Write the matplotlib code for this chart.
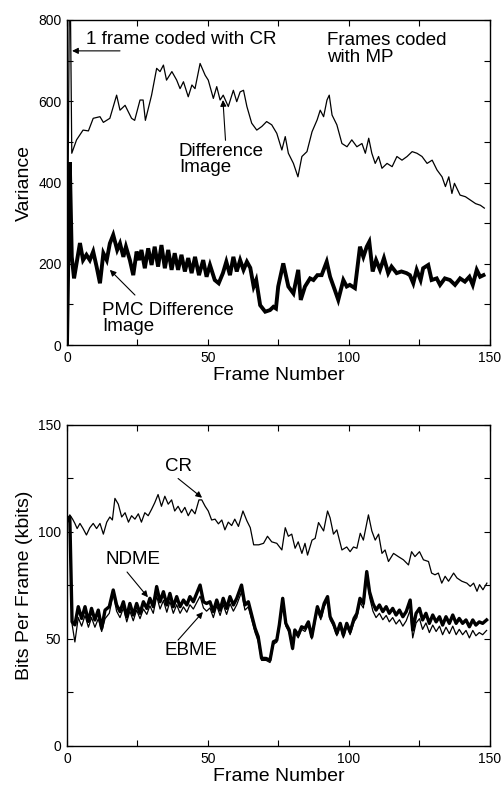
import matplotlib
matplotlib.use("Agg")
import matplotlib.pyplot as plt
from matplotlib.ticker import MultipleLocator

plt.rcParams['font.family'] = ['Liberation Sans', 'DejaVu Sans']

# ---- top panel: variance per frame ----
diff_frames = [0, 1, 1.7, 3.4, 5.7, 7.6, 9.3, 11.7, 12.9, 15.2, 17.6, 18.8, 20.6, 22.9, 24.0,
               25.9, 27.0, 27.8, 30.0, 31.8, 33.0, 34.2, 35.3, 37.2, 38.9, 40.1, 41.3, 43.0,
               44.3, 45.4, 47.2, 49.0, 50.1, 51.9, 53.1, 54.3, 55.4, 57.2, 59.0, 60.2, 61.4,
               62.6, 63.8, 65.5, 67.3, 69.1, 70.8, 72.6, 74.4, 76.2, 77.4, 78.5, 80.3, 81.9,
               83.3, 85.1, 86.9, 88.7, 89.8, 91.0, 92.2, 93.0, 94.0, 95.7, 97.5, 99.3, 101.0,
               102.8, 104.6, 105.8, 107.0, 108.1, 109.3, 110.5, 111.7, 113.5, 115.3, 117.0,
               118.8, 120.6, 122.4, 124.1, 125.9, 127.7, 129.5, 131.2, 133.0, 134.2, 135.4,
               136.5, 137.4, 139.4, 141.3, 143.0, 144.9, 146.6, 148.0]
diff_var = [0, 1000, 472, 505, 529, 527, 558, 562, 548, 558, 615, 578, 590, 558, 553,
            603, 603, 553, 615, 681, 673, 689, 652, 673, 652, 631, 648, 611,
            640, 631, 693, 664, 652, 607, 636, 603, 615, 587, 627, 599, 623,
            627, 587, 546, 529, 538, 550, 542, 521, 480, 513, 472, 447, 414,
            464, 476, 525, 554, 578, 562, 603, 615, 566, 542, 496, 488, 505,
            488, 496, 472, 509, 472, 447, 464, 435, 447, 439, 464,
            455, 464, 476, 472, 464, 447, 455, 431, 414, 390, 414,
            373, 398, 369, 365, 357, 348, 344, 337]

pmc_frames = [0, 1, 1.7, 2.5, 4.6, 5.7, 6.9, 8.1, 9.3, 10.5, 11.7, 12.9, 14.1, 15.2, 16.4,
              17.8, 18.8, 20.0, 20.9, 22.3, 23.5, 24.7, 25.6, 26.4, 27.6, 28.8, 30.0, 31.1,
              32.3, 33.5, 34.7, 35.9, 37.1, 38.2, 39.4, 40.6, 41.8, 43.0, 44.2, 45.4, 46.8,
              48.3, 49.5, 50.7, 52.4, 53.8, 55.3, 56.5, 57.8, 59.0, 60.2, 61.4, 62.6, 63.8,
              65.0, 66.2, 67.1, 68.5, 70.3, 72.0, 73.2, 74.1, 74.9, 76.7, 78.5, 80.3, 82.0,
              82.9, 84.4, 86.2, 87.4, 88.8, 90.3, 92.1, 93.3, 95.0, 96.2, 98.0, 99.2, 100.3,
              102.1, 103.9, 105.1, 106.3, 107.2, 108.4, 109.6, 111.0, 112.4, 113.9, 115.1,
              116.9, 118.6, 120.4, 121.6, 122.8, 124.0, 125.4, 126.3, 128.1, 129.3, 131.1,
              132.3, 134.0, 135.8, 137.6, 139.4, 141.1, 142.7, 143.9, 145.3, 146.5, 147.7]
pmc_var = [0, 450, 217, 164, 251, 209, 222, 209, 230, 193, 152, 226, 209, 250, 271,
           234, 250, 217, 242, 209, 172, 230, 209, 234, 189, 238, 197, 242,
           193, 246, 189, 234, 185, 226, 185, 222, 181, 214, 177, 217, 172,
           209, 168, 197, 160, 152, 177, 205, 172, 217, 181, 209, 185, 205,
           190, 144, 160, 98, 82, 86, 94, 90, 144, 201, 144, 127, 185,
           111, 144, 164, 160, 172, 172, 205, 168, 135, 111, 160, 144, 148,
           140, 242, 217, 242, 254, 181, 209, 185, 214, 177, 193,
           177, 181, 177, 172, 152, 185, 160, 189, 197, 160, 164,
           148, 164, 160, 148, 164, 156, 168, 148, 185, 168, 172]

# ---- bottom panel: bits per frame ----
cr_frames = [0, 1, 2, 2.8, 3.6, 4.6, 5.7, 6.9, 8.1, 9.3, 10.5, 11.7, 12.9, 14.1, 15.2, 16.1,
             17.0, 18.2, 19.4, 20.6, 21.8, 22.9, 24.1, 25.3, 26.4, 27.6, 28.8, 30.0, 31.1,
             32.3, 33.5, 34.7, 35.9, 37.1, 38.2, 39.4, 40.6, 41.8, 43.0, 44.2, 45.4, 46.8,
             47.8, 49.0, 50.1, 51.3, 52.5, 53.7, 54.9, 56.0, 57.2, 58.4, 59.5, 60.8, 62.4,
             63.8, 65.0, 66.2, 68.0, 69.7, 71.1, 72.6, 74.4, 76.2, 77.4, 78.5, 79.7, 80.9,
             82.0, 83.3, 84.4, 85.3, 86.9, 88.0, 89.2, 91.0, 92.4, 93.3, 94.5, 95.7, 97.5,
             99.2, 100.4, 101.6, 102.8, 104.0, 105.1, 106.9, 108.1, 109.3, 110.5, 111.7,
             112.8, 114.0, 115.8, 117.5, 119.3, 121.1, 122.2, 123.4, 125.0, 126.4, 128.2,
             129.3, 130.5, 131.7, 132.9, 134.1, 135.3, 137.1, 138.3, 140.0, 141.8, 143.0,
             144.2, 145.4, 146.3, 147.5, 148.9]
cr_bits = [105, 108, 106, 104, 101.6, 104, 101.6, 98.6, 102, 104, 101.6, 104, 99, 104.6, 107, 105.6,
           115.7, 113, 107, 109, 104.6, 107.6, 106, 108.5, 104.6, 109, 107.6, 110.6, 113.6,
           117.5, 112, 116.7, 113, 115, 109.8, 112, 109, 111.5, 107.6, 110.6, 108.5, 115,
           115, 112, 109.8, 105.6, 106, 103.8, 105.6, 101, 104.6, 103, 106, 102.6, 109.8,
           105.2, 102, 94, 94, 94.7, 98, 95.4, 94.7, 91.6, 102, 98, 99, 92.4,
           95.4, 90, 94.7, 89.2, 96.2, 97, 104.4, 100.5, 109.8, 106.6, 99, 101, 91.6,
           93, 90.8, 93, 92.4, 99.4, 96.2, 108, 100.5, 96.2, 99, 90,
           91.6, 86.2, 90, 88.5, 87, 84.6, 90.8, 88.5, 90.8, 87, 86.2,
           80.8, 80, 80.8, 76.1, 79.3, 77, 80.8, 78.5, 77, 76.1, 74.6,
           76.1, 72.3, 75.4, 73, 76.1]

me_frames = [0, 1, 1.8, 2.8, 4.0, 5.2, 6.4, 7.6, 8.7, 9.9, 11.1, 12.3, 13.5, 15.0, 16.4, 17.6,
             18.8, 20.0, 21.2, 22.3, 23.5, 24.7, 25.9, 27.1, 28.3, 29.4, 30.6, 31.8, 33.0,
             34.2, 35.4, 36.5, 37.7, 38.9, 40.1, 41.3, 42.5, 43.6, 44.8, 46.0, 47.2, 48.4,
             49.5, 50.7, 51.9, 53.1, 54.3, 55.4, 56.6, 57.8, 59.0, 60.2, 61.9, 63.1, 64.3,
             65.5, 66.7, 67.8, 69.0, 70.6, 72.0, 73.2, 74.4, 75.3, 76.5, 77.6, 78.8, 80.0,
             80.8, 82.0, 83.2, 84.4, 85.6, 86.8, 87.9, 88.8, 90.0, 91.2, 92.4, 93.3, 94.5,
             95.7, 96.9, 98.0, 99.2, 100.4, 101.8, 102.8, 103.9, 105.1, 106.3, 107.3, 108.5,
             109.6, 110.8, 112.0, 113.2, 114.3, 115.5, 116.7, 117.9, 119.1, 120.3, 121.7,
             122.6, 123.8, 125.0, 126.1, 127.3, 128.5, 129.7, 130.9, 132.1, 133.2, 134.4,
             135.6, 136.8, 138.0, 139.1, 140.3, 141.5, 142.7, 143.9, 145.0, 146.2, 147.4, 148.8]
ndme_bits = [106, 107, 58, 56.6, 65.1, 59.6, 65.1, 58.2, 64.3, 58.9, 63.5, 55, 63.5, 65.1, 72.9, 65.9,
             62.8, 67.4, 60.4, 66.6, 61.2, 66.6, 62, 67.4, 64.3, 69, 65.1, 74.5, 67.4,
             72.1, 65.9, 71.3, 65.1, 69.8, 65.1, 68.2, 65.9, 69.8, 67.4, 71.3, 75.2, 67.4,
             66.6, 67.4, 62.8, 68.2, 63.5, 69, 64.3, 69.8, 65.9, 69, 75.2, 65.9, 67.4,
             61.2, 55, 51.1, 41, 40.9, 40.1, 48.7, 49.5, 56.6, 69, 57.3, 54.2, 45.6,
             54.2, 51.8, 55.7, 55, 58, 51, 58.9, 65.1, 60.4, 66.6, 69.8, 60.4, 57.3,
             52.6, 57.3, 51.8, 57.3, 53.4, 59.6, 61.9, 69, 66.6, 81.5, 72, 66.6,
             63.5, 65.9, 62.8, 65.1, 62, 64.3, 61.2, 63.5, 60.4, 62.8, 68.2,
             54.2, 62, 64.3, 58.9, 62, 57.3, 61.2, 58, 60.4, 56.5, 60.4,
             57.3, 61.2, 57.3, 59.6, 57.3, 58.9, 55.7, 58.9, 56.5, 58, 57.3, 58.9]
ebme_bits = [104, 106, 57, 48.6, 60, 56, 61, 55.5, 60, 55.5, 59.5, 53.5, 59.5, 62, 71, 63,
             60, 64.5, 58, 63, 58.5, 63.5, 59.5, 64, 61.5, 65.5, 62, 70, 64,
             68, 62.5, 67.5, 62, 66, 62, 65, 62.5, 66, 64, 67, 70, 64.5,
             63, 64.5, 60, 65.5, 61, 66, 61.5, 66.5, 63, 66, 72, 63.5, 65,
             59, 53, 49, 40, 40, 39, 47.5, 48.5, 55, 67, 56, 53, 45,
             53, 50.5, 54.5, 53.5, 56.5, 50, 57.5, 63.5, 59, 65, 68, 59, 56,
             51.5, 56, 50.5, 56, 52, 58, 60, 67, 64.5, 79, 69.5, 63,
             60, 62, 59, 61, 58, 60, 57, 59, 56, 58.5, 63.5,
             50.5, 57.5, 59.5, 54.5, 57.5, 53, 56.5, 53.5, 56, 52, 55.5,
             52.5, 56, 52, 54.5, 52, 54, 50.5, 54, 51.5, 53, 52, 54]

fig = plt.figure(figsize=(5.01, 7.87), dpi=100)
ax1 = fig.add_axes([0.1337, 0.5616, 0.8443, 0.413])
ax2 = fig.add_axes([0.1337, 0.0521, 0.8443, 0.4079])

ax1.plot(diff_frames, diff_var, color='black', lw=0.9)
ax1.plot(pmc_frames, pmc_var, color='black', lw=2.8, solid_joinstyle='miter')
ax2.plot(cr_frames, cr_bits, color='black', lw=0.9)
ax2.plot(me_frames, ebme_bits, color='black', lw=0.9)
ax2.plot(me_frames, ndme_bits, color='black', lw=2.4)

ax1.set_xlim(0, 150)
ax1.set_ylim(0, 800)
ax2.set_xlim(0, 150)
ax2.set_ylim(0, 150)

ax1.xaxis.set_major_locator(MultipleLocator(50))
ax1.xaxis.set_minor_locator(MultipleLocator(25))
ax1.yaxis.set_major_locator(MultipleLocator(200))
ax1.yaxis.set_minor_locator(MultipleLocator(100))
ax2.xaxis.set_major_locator(MultipleLocator(50))
ax2.xaxis.set_minor_locator(MultipleLocator(25))
ax2.yaxis.set_major_locator(MultipleLocator(50))
ax2.yaxis.set_minor_locator(MultipleLocator(25))

for ax in (ax1, ax2):
    ax.tick_params(which='both', direction='in', top=True, right=True,
                   length=4, width=0.8, labelsize=10, pad=4)
    for sp in ax.spines.values():
        sp.set_linewidth(1.0)
    ax.set_xlabel('Frame Number', fontsize=14, labelpad=2)

ax1.set_ylabel('Variance', fontsize=14, labelpad=4)
ax2.set_ylabel('Bits Per Frame (kbits)', fontsize=14, labelpad=4)

txt = dict(fontsize=13.5, color='black')
arr = dict(arrowstyle='-|>', color='black', lw=0.8, mutation_scale=9, shrinkA=0, shrinkB=0)

ax1.text(6.7, 753, '1 frame coded with CR', va='center', ha='left', **txt)
ax1.annotate('', xy=(1.8, 724), xytext=(18.8, 724), arrowprops=arr)
ax1.text(92.2, 770, 'Frames coded\nwith MP', va='top', ha='left', linespacing=0.95, **txt)
ax1.annotate('Difference\nImage', xy=(55.3, 603), xytext=(39.7, 497),
             va='top', ha='left', linespacing=0.95,
             arrowprops=dict(arr, relpos=(0.55, 1.0)), **txt)
ax1.text(12.5, 66, 'PMC Difference\nImage', va='center', ha='left', linespacing=0.95, **txt)
ax1.annotate('', xy=(15.2, 185), xytext=(24.1, 123), arrowprops=arr)

ax2.text(39.7, 130.5, 'CR', va='center', ha='center', **txt)
ax2.annotate('', xy=(47.9, 116), xytext=(39.4, 125), arrowprops=arr)
ax2.text(23.4, 87, 'NDME', va='center', ha='center', **txt)
ax2.annotate('', xy=(28.7, 69.5), xytext=(21.3, 81.3), arrowprops=arr)
ax2.text(44, 44.5, 'EBME', va='center', ha='center', **txt)
ax2.annotate('', xy=(48.2, 62.6), xytext=(39.4, 49.5), arrowprops=arr)

fig.savefig('out.png', dpi=100)
